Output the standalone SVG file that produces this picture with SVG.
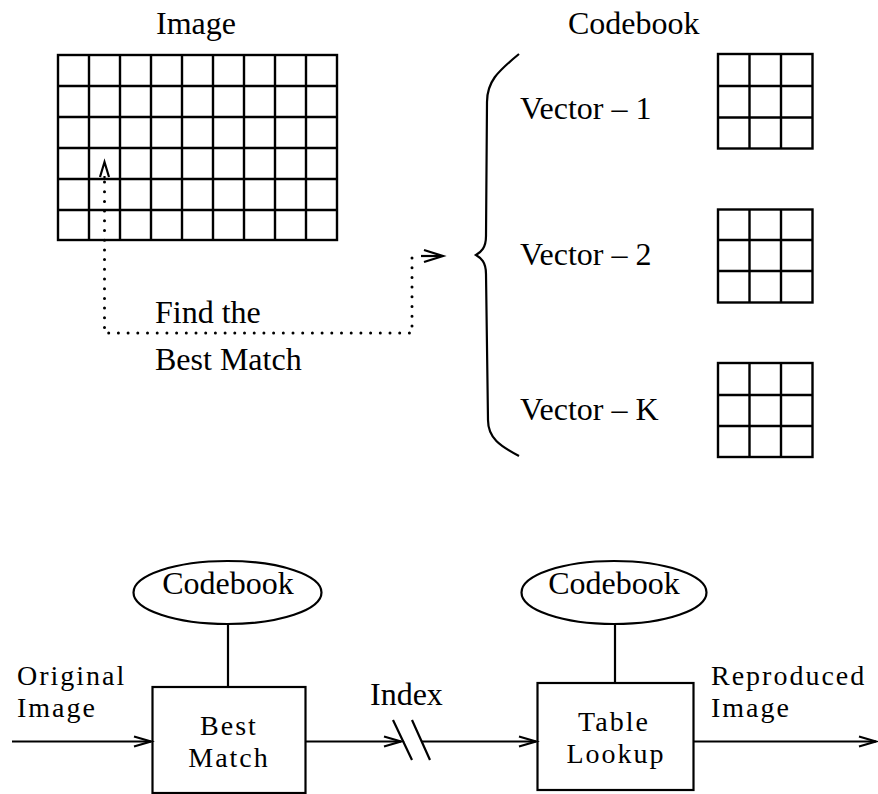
<svg xmlns="http://www.w3.org/2000/svg" width="878" height="794" viewBox="0 0 878 794">
<style>
text{font-family:"Liberation Serif","Times New Roman",serif;font-size:32px;fill:#000}
.c{text-anchor:middle}
.two{font-size:28px;letter-spacing:2px}
.grid{fill:none;stroke:#000;stroke-width:2.4}
.ln{fill:none;stroke:#000;stroke-width:2.2}
.dot{fill:none;stroke:#000;stroke-width:3;stroke-linecap:round;stroke-dasharray:0 9.7}
.ah{fill:none;stroke:#000;stroke-width:2.2;stroke-linejoin:miter}
</style>
<rect width="878" height="794" fill="#fff"/>

<g id="image-title"><text x="156" y="34">Image</text></g>
<g id="image-grid">
<rect class="grid" x="58" y="55" width="279" height="185"/>
<path class="grid" d="M89,55V240M120,55V240M151,55V240M182,55V240M213,55V240M244,55V240M275,55V240M306,55V240M58,86H337M58,117H337M58,148H337M58,179H337M58,210H337"/>
</g>

<g id="codebook-title"><text x="568" y="34">Codebook</text></g>
<g id="brace">
<path class="ln" d="M519,54C497,72 487,82 487,102L486,236C486,248 481,252 476,255C481,258 486,262 486,274L488,420C488,438 500,446 519,456"/>
</g>
<g id="vector-1">
<text x="520" y="119">Vector – 1</text>
<rect class="grid" x="718" y="54" width="94.5" height="94.5"/>
<path class="grid" d="M749.5,54V148.5M781,54V148.5M718,86H812.5M718,117.5H812.5"/>
</g>
<g id="vector-2">
<text x="520" y="265">Vector – 2</text>
<rect class="grid" x="718" y="209.5" width="94.5" height="93"/>
<path class="grid" d="M749.5,209.5V302.5M781,209.5V302.5M718,240H812.5M718,271H812.5"/>
</g>
<g id="vector-k">
<text x="520" y="420">Vector – K</text>
<rect class="grid" x="718" y="363" width="94.5" height="94"/>
<path class="grid" d="M749.5,363V457M781,363V457M718,395H812.5M718,426H812.5"/>
</g>
<g id="find-label">
<text x="155" y="323">Find the</text>
<text x="155" y="370">Best Match</text>
</g>

<g id="codebook-1">
<ellipse class="ln" cx="227.5" cy="592.5" rx="94" ry="31.5"/>
<text class="c" x="228" y="594">Codebook</text>
</g>
<g id="best-match">
<rect class="ln" x="152.5" y="687" width="153" height="106"/>
<text class="c two" x="229" y="735">Best</text>
<text class="c two" x="229" y="767">Match</text>
</g>
<g id="codebook-2">
<ellipse class="ln" cx="614" cy="592.5" rx="92.5" ry="31.5"/>
<text class="c" x="614" y="594">Codebook</text>
</g>
<g id="table-lookup">
<rect class="ln" x="537.5" y="683" width="156" height="107"/>
<text class="c two" x="614" y="731">Table</text>
<text class="c two" x="616" y="763">Lookup</text>
</g>
<g id="labels">
<text class="two" x="17" y="685">Original</text>
<text class="two" x="17" y="717">Image</text>
<text x="370" y="705">Index</text>
<text class="two" x="711" y="685">Reproduced</text>
<text class="two" x="711" y="717">Image</text>
</g>

<g id="connectors">
<path class="dot" d="M104.5,182V333H412V256"/>
<path class="ln" d="M104.5,176V180"/>
<path class="ah" d="M100,177L104.5,162L109,177"/>
<path class="ln" d="M421,256H441"/>
<path class="ah" d="M424,250L443,256L424,262"/>
<path class="ln" d="M12,741.5H151"/>
<path class="ah" d="M134,736.5L151,741.5L134,746.5"/>
<path class="ln" d="M306,741.5H401"/>
<path class="ah" d="M384,736.5L401,741.5L384,746.5"/>
<path class="ln" d="M393,720L412,760M412,720L430,760"/>
<path class="ln" d="M421,741.5H536"/>
<path class="ah" d="M519,736.5L536,741.5L519,746.5"/>
<path class="ln" d="M694,741.5H876"/>
<path class="ah" d="M859,736.5L876,741.5L859,746.5"/>
<path class="ln" d="M228,624V687M615,624V683"/>
</g>
</svg>
